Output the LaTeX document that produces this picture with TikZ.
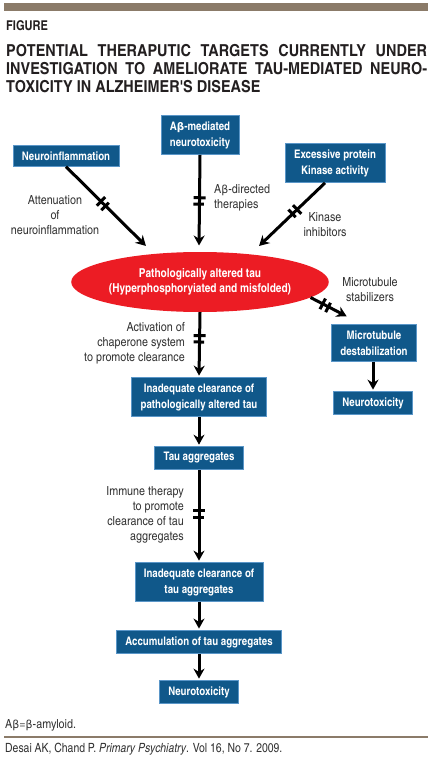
\documentclass[tikz,border=0pt]{standalone}
\usepackage{fontspec}
\setmainfont{TeX Gyre Heros Cn}
\newfontfamily\widecn{TeX Gyre Heros Cn}[FakeStretch=1.07]
\newfontfamily\notecn{TeX Gyre Heros Cn}[FakeStretch=1.05]
\newfontfamily\grk{DejaVu Sans}[Scale=0.88]
\usetikzlibrary{shapes.geometric,arrows.meta,decorations.markings}
\definecolor{boxblue}{RGB}{16,88,138}
\definecolor{boxedge}{RGB}{90,150,200}
\definecolor{taured}{RGB}{236,28,36}
\definecolor{barbrown}{RGB}{139,123,105}
\definecolor{labelgray}{RGB}{50,50,50}
\definecolor{titleink}{RGB}{35,31,32}
\newcommand{\bt}{{\grk β}}
\newcommand{\Ab}{A\bt}

\begin{document}
\begin{tikzpicture}[x=1pt,y=-1pt]
			\tikzset{box/.style={fill=boxblue,draw=boxedge,line width=0.6pt,text=white,font=\bfseries\fontsize{11.8}{16}\selectfont,align=center,inner xsep=9pt,inner ysep=6pt}}
			\tikzset{note/.style={text=labelgray,font=\notecn\fontsize{12.5}{15}\selectfont,inner sep=0pt}}
			\tikzset{flow/.style={line width=3pt,-{Stealth[length=10pt,width=11pt]},shorten >=1.5pt}}
			\tikzset{blocked/.style={postaction={decorate},decoration={markings,mark=at position #1 with {\draw[line width=3pt,-] (-3.2pt,-6pt) -- (-3.2pt,6pt) (3.2pt,-6pt) -- (3.2pt,6pt);}}}}
			\useasboundingbox (0,0) rectangle (432,759);
			\fill[barbrown] (4,3) rectangle (428,11);
			\node[anchor=west,inner sep=0pt,text=titleink,font=\bfseries\fontsize{13.5}{15}\selectfont] (figlabel) at (6,26) {FIGURE};
			\node[anchor=north west,inner sep=0pt,text width=421pt,align=justify,text=titleink,font=\widecn\bfseries\fontsize{16.5}{18}\selectfont] (title) at (6,44.5)
				{\hyphenpenalty=10000 POTENTIAL THERAPUTIC TARGETS CURRENTLY UNDER\linebreak INVESTIGATION TO AMELIORATE TAU-MEDIATED NEURO-\linebreak TOXICITY IN ALZHEIMER'S DISEASE};
			\node[box] (neuro) at (66,156) {Neuroinflammation};
			\node[box] (abeta) at (200,135) {\Ab-mediated\\neurotoxicity};
			\node[box] (kinase) at (335,163) {Excessive protein\\Kinase activity};
			\node[ellipse,fill=taured,text=white,font=\bfseries\fontsize{12.3}{15}\selectfont,align=center,minimum width=240pt,minimum height=60pt,inner sep=0pt] (tau) at (200,282)
				{Pathologically altered tau\\(Hyperphosphoryiated and misfolded)};
			\node[box] (destab) at (374,343) {Microtubule\\destabilization};
			\node[box] (toxright) at (373,403) {Neurotoxicity};
			\node[box] (clear1) at (199,397) {Inadequate clearance of\\pathologically altered tau};
			\node[box] (aggr) at (199,458) {Tau aggregates};
			\node[box] (clear2) at (199,582) {Inadequate clearance of\\tau aggregates};
			\node[box] (accum) at (199,642) {Accumulation of tau aggregates};
			\node[box] (toxbottom) at (199,692) {Neurotoxicity};
			\node[note,align=center] (atten) at (55,215) {Attenuation\\of\\neuroinflammation};
			\node[note,align=left,anchor=west] (abdirect) at (214,198) {\Ab-directed\\therapies};
			\node[note,align=center] (kininhib) at (325,225) {Kinase\\inhibitors};
			\node[note,align=center] (stabil) at (370,290) {Microtubule\\stabilizers};
			\node[note,align=right,anchor=east] (chaperone) at (185,343) {Activation of\\chaperone system\\to promote clearance};
			\node[note,align=right,anchor=east] (immune) at (184,515) {Immune therapy\\to promote\\clearance of tau\\aggregates};
			\coordinate (inA) at (147,247);
			\coordinate (inB) at (199,247);
			\coordinate (inC) at (258,247);
			\coordinate (outD) at (348,317);
			\draw[flow,blocked=0.46] (neuro.south) -- (inA);
			\draw[flow,blocked=0.5] (abeta.south) -- (inB);
			\draw[flow,blocked=0.45] ([xshift=-10pt]kinase.south) -- (inC);
			\draw[flow,blocked=0.4] (tau.-8) -- (outD);
			\draw[flow,blocked=0.41] (tau.south) -- (clear1.north);
			\draw[flow] (clear1) -- (aggr);
			\draw[flow,blocked=0.48] (aggr) -- (clear2);
			\draw[flow] (clear2) -- (accum);
			\draw[flow] (accum) -- (toxbottom);
			\draw[flow] (toxright.north |- destab.south) -- (toxright);
			\node[note,anchor=west] (abbrev) at (5,725) {\Ab=\bt-amyloid.};
			\draw[barbrown,line width=2.5pt] (4,737) -- (428,737);
			\node[note,anchor=west,font=\fontsize{12.7}{14}\selectfont] (source) at (5,749) {Desai AK, Chand P. \textit{Primary Psychiatry}. Vol 16, No 7. 2009.};
		\end{tikzpicture}
\end{document}
